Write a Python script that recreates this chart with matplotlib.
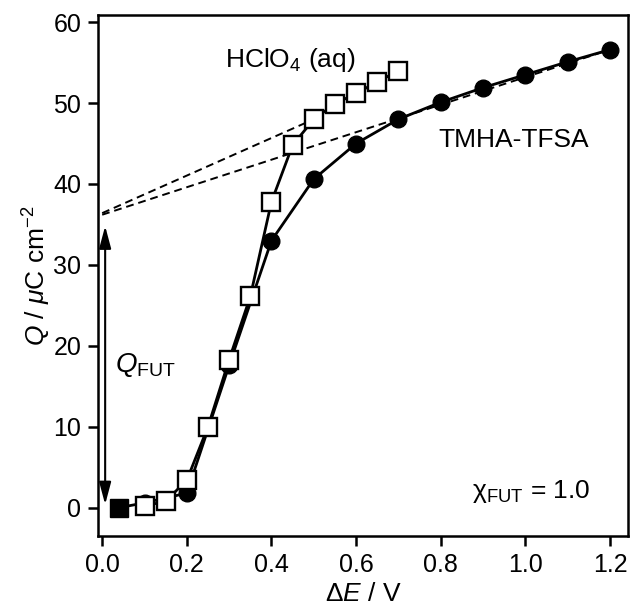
import matplotlib
matplotlib.use("Agg")
import matplotlib.pyplot as plt
import numpy as np

plt.rcParams['font.family'] = 'Liberation Sans'
plt.rcParams['mathtext.fontset'] = 'custom'
plt.rcParams['mathtext.rm'] = 'Liberation Sans'
plt.rcParams['mathtext.it'] = 'Liberation Sans:italic'

# TMHA-TFSA (filled circles), first point drawn as a filled square
tmha_x = [0.04, 0.1, 0.2, 0.3, 0.4, 0.5, 0.6, 0.7, 0.8, 0.9, 1.0, 1.1, 1.2]
tmha_q = [0.0, 0.6, 1.8, 17.6, 33.0, 40.6, 45.0, 48.0, 50.1, 51.9, 53.5, 55.1, 56.6]

# HClO4 (aq) (open squares)
hclo4_x = [0.1, 0.15, 0.2, 0.25, 0.3, 0.35, 0.4, 0.45, 0.5, 0.55, 0.6, 0.65, 0.7]
hclo4_q = [0.2, 0.8, 3.4, 10.0, 18.3, 26.1, 37.8, 44.8, 48.0, 49.9, 51.2, 52.6, 54.0]

# extrapolated linear fits (dashed)
fit_hclo4_x = [0.0, 0.5]
fit_hclo4_q = [36.4, 48.0]
fit_tmha_x = [0.0, 1.2]
fit_tmha_q = [36.2, 56.6]

fig = plt.figure(figsize=(6.32, 6.06), dpi=100)
ax = fig.add_axes([0.155, 0.1155, 0.839, 0.86])

ax.plot(fit_hclo4_x, fit_hclo4_q, color='black', lw=1.4, ls=(0, (4, 2.5)), zorder=2)
ax.plot(fit_tmha_x, fit_tmha_q, color='black', lw=1.4, ls=(0, (4, 2.5)), zorder=2)

ax.plot(tmha_x, tmha_q, color='black', lw=2.0, zorder=3)
ax.plot(tmha_x[1:], tmha_q[1:], 'o', ms=12, color='black', zorder=4)
ax.plot(tmha_x[:1], tmha_q[:1], 's', ms=12.5, color='black', zorder=4)

ax.plot(hclo4_x, hclo4_q, '-s', color='black', lw=2.0, ms=12.5,
        mfc='white', mec='black', mew=1.7, zorder=5)

# Q_FUT double arrow
ax.annotate('', xy=(0.007, 0.4), xytext=(0.007, 34.8),
            arrowprops=dict(arrowstyle='<|-|>,head_length=0.75,head_width=0.2',
                            color='black', lw=1.5,
                            mutation_scale=18, shrinkA=0, shrinkB=0))

ax.text(0.03, 17.6, r'$Q_{\mathrm{FUT}}$', fontsize=20, va='center', ha='left')
ax.text(0.29, 55.3, r'HClO$_4$ (aq)', fontsize=19, va='center', ha='left')
ax.text(0.795, 45.4, 'TMHA-TFSA', fontsize=19, va='center', ha='left')
ax.text(0.875, 2.0, '\u03c7$_{\\mathrm{FUT}}$ = 1.0', fontsize=19, va='center', ha='left')

ax.set_xlim(-0.01, 1.243)
ax.set_ylim(-3.5, 60.9)
ax.set_xticks(np.arange(0, 1.21, 0.2))
ax.set_xticklabels(['0.0', '0.2', '0.4', '0.6', '0.8', '1.0', '1.2'])
ax.set_yticks(np.arange(0, 61, 10))

ax.set_xlabel(r'$\Delta E$ / V', fontsize=19, labelpad=4)
ax.set_ylabel(r'$Q$ / $\mu$C cm$^{-2}$', fontsize=19, labelpad=0)

for s in ax.spines.values():
    s.set_linewidth(1.8)
ax.tick_params(direction='out', length=7, width=1.8, labelsize=18, pad=5,
               top=False, right=False)

fig.savefig('out.png', dpi=100)
